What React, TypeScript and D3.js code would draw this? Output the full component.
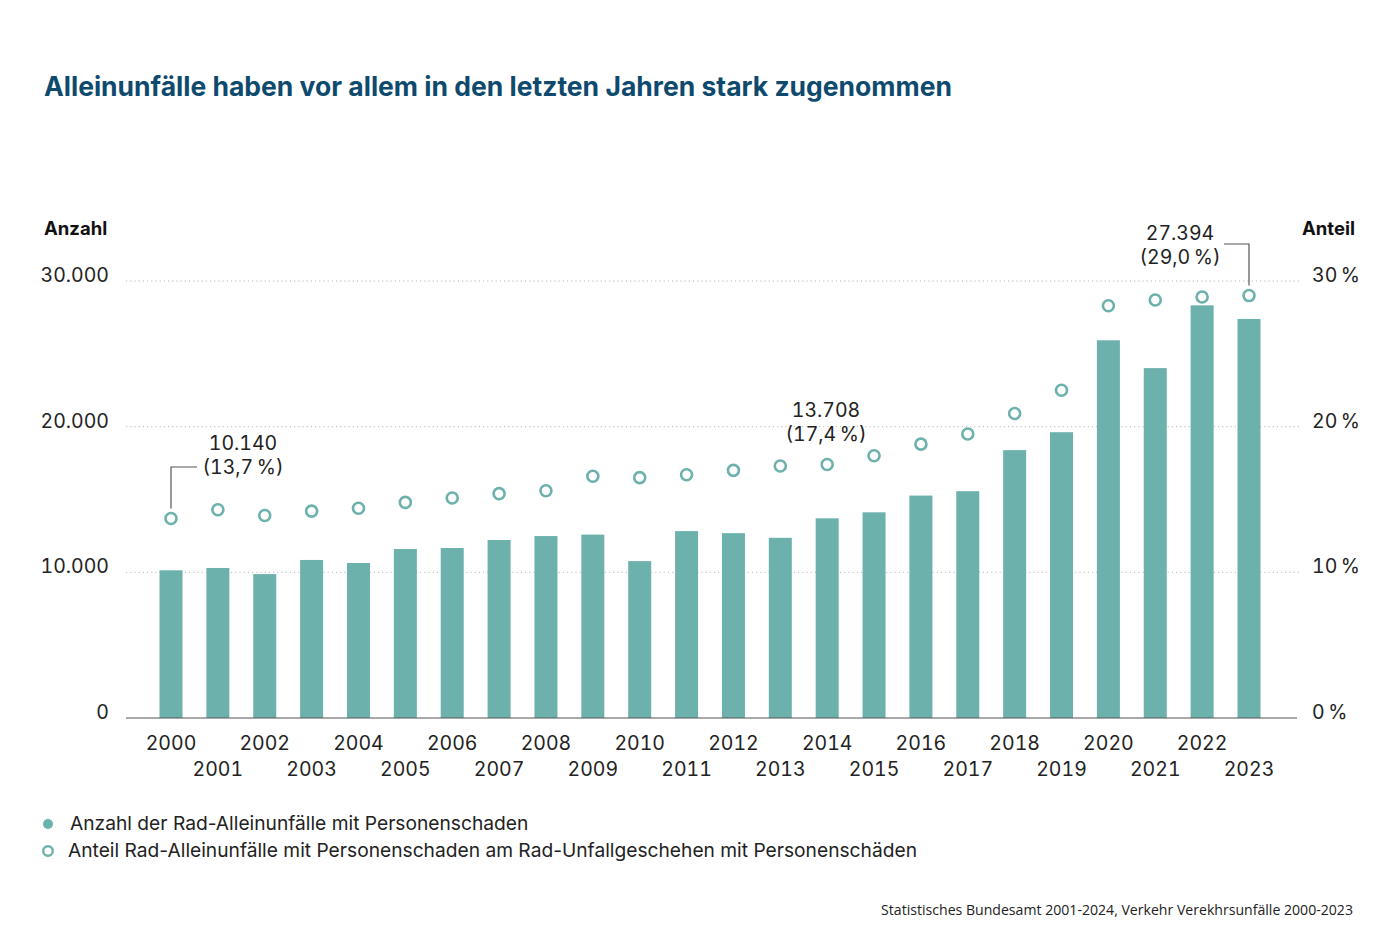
import React from "react";
import * as d3 from "d3";

const years = d3.range(2000, 2024).map(String);
const counts = [10140, 10300, 9880, 10850, 10640, 11600, 11670, 12220, 12490, 12590, 10770, 12830, 12690, 12370, 13708, 14120, 15270, 15570, 18390, 19620, 25930, 24020, 28330, 27394];
const shares = [13.7, 14.3, 13.9, 14.2, 14.4, 14.8, 15.1, 15.4, 15.6, 16.6, 16.5, 16.7, 17.0, 17.3, 17.4, 18.0, 18.8, 19.5, 20.9, 22.5, 28.3, 28.7, 28.9, 29.0];
const countTicks = [0, 10000, 20000, 30000];
const shareTicks = [0, 10, 20, 30];

const TEAL = "#6db1ad";
const FONT = "Inter, 'Liberation Sans', Arial, sans-serif";
const TEXT = "#222";
const THIN = "\u2009";

const fmtCount = (v: number) => d3.format(",")(v).replace(/,/g, ".");
const fmtShare = (v: number) => d3.format(".1f")(v).replace(".", ",");

export default function App() {
  const W = 1400, H = 934;
  const x = d3.scalePoint<string>().domain(years).range([171, 1249]);
  const y = d3.scaleLinear().domain([0, 30000]).range([718, 281]);
  const yp = d3.scaleLinear().domain([0, 30]).range([718, 281]);
  const barW = 23;

  const annotations = [
    { i: 0, tx: 243, ty: 450, side: "right" },
    { i: 14, tx: 826, ty: 417, side: "none" },
    { i: 23, tx: 1180, ty: 240, side: "left" },
  ];

  const num: React.CSSProperties = { fontVariantNumeric: "tabular-nums" };

  return (
    <div style={{ position: "absolute", left: 0, top: 0 }}>
      <svg width={W} height={H} style={{ display: "block", background: "#fff" }} fontFamily={FONT}>
        <text x={44} y={96} fontSize={26.5} fontWeight={700} fill="#0e4a6e">
          Alleinunfälle haben vor allem in den letzten Jahren stark zugenommen
        </text>

        <text x={44} y={235} fontSize={18.5} fontWeight={700} fill="#111">Anzahl</text>
        <text x={1355} y={235} fontSize={18.5} fontWeight={700} fill="#111" textAnchor="end">Anteil</text>

        {countTicks.filter((t) => t > 0).map((t) => (
          <line key={t} x1={126} x2={1300} y1={y(t)} y2={y(t)} stroke="#b8b8b8" strokeWidth={1} strokeDasharray="1.2,3" />
        ))}
        {countTicks.map((t) => (
          <text key={t} x={109} y={y(t) + 1} fontSize={19.5} fill={TEXT} textAnchor="end" style={num}>{fmtCount(t)}</text>
        ))}
        {shareTicks.map((t) => (
          <text key={t} x={1312} y={yp(t) + 1} fontSize={19.5} fill={TEXT} style={num}>{`${t}${THIN}%`}</text>
        ))}

        {years.map((yr, i) => (
          <rect key={yr} x={(x(yr) as number) - barW / 2} y={y(counts[i])} width={barW} height={y(0) - y(counts[i])} fill={TEAL} />
        ))}
        <line x1={126} x2={1297} y1={y(0)} y2={y(0)} stroke="#555" strokeWidth={1.2} />

        {years.map((yr, i) => (
          <circle key={yr} cx={x(yr) as number} cy={yp(shares[i])} r={5.5} fill="#fff" stroke={TEAL} strokeWidth={2.6} />
        ))}

        {years.map((yr, i) => (
          <text key={yr} x={x(yr) as number} y={i % 2 === 0 ? 750 : 776} fontSize={19.5} fill={TEXT} textAnchor="middle" style={num}>{yr}</text>
        ))}

        {annotations.map((a) => {
          const cx = x(years[a.i]) as number;
          const cy = yp(shares[a.i]);
          return (
            <g key={a.i}>
              {a.side === "right" && (
                <path d={`M${cx},${cy - 10}V${a.ty + 17}H${cx + 26}`} fill="none" stroke="#555" strokeWidth={1.2} />
              )}
              {a.side === "left" && (
                <path d={`M${cx},${cy - 10}V${a.ty + 4}H${cx - 25}`} fill="none" stroke="#555" strokeWidth={1.2} />
              )}
              <text x={a.tx} y={a.ty} fontSize={19.5} fill={TEXT} textAnchor="middle" style={num}>{fmtCount(counts[a.i])}</text>
              <text x={a.tx} y={a.ty + 24} fontSize={19.5} fill={TEXT} textAnchor="middle" style={num}>{`(${fmtShare(shares[a.i])}${THIN}%)`}</text>
            </g>
          );
        })}

        <circle cx={48} cy={824} r={5} fill={TEAL} />
        <text x={70} y={830} fontSize={19.2} fill={TEXT}>Anzahl der Rad-Alleinunfälle mit Personenschaden</text>
        <circle cx={48} cy={851} r={4.8} fill="#fff" stroke={TEAL} strokeWidth={2.4} />
        <text x={68} y={857} fontSize={19.2} fill={TEXT}>Anteil Rad-Alleinunfälle mit Personenschaden am Rad-Unfallgeschehen mit Personenschäden</text>

        <text x={1353} y={915} fontSize={14.1} fill="#222" textAnchor="end" fontFamily="'Open Sans', sans-serif">
          Statistisches Bundesamt 2001-2024, Verkehr Verekhrsunfälle 2000-2023
        </text>
      </svg>
    </div>
  );
}
